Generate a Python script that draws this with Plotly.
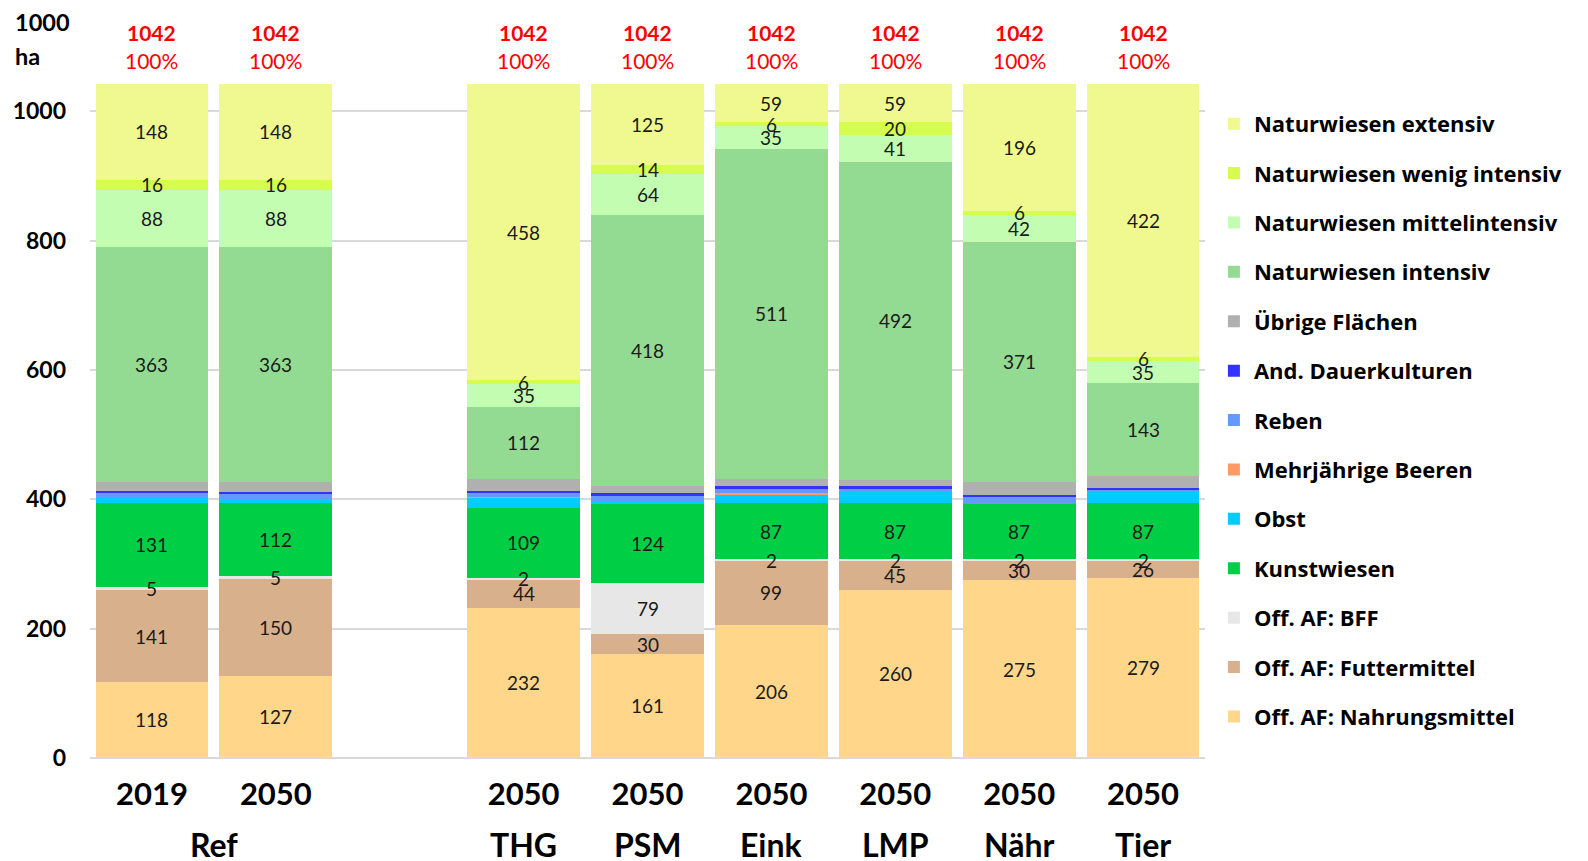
import plotly.graph_objects as go

# categories (one empty slot separates the Ref group)
cat_ids = ["2019 Ref", "2050 Ref", " ", "2050 THG", "2050 PSM", "2050 Eink", "2050 LMP", "2050 Nähr", "2050 Tier"]
years = ["2019", "2050", "", "2050", "2050", "2050", "2050", "2050", "2050"]
scenarios = ["THG", "PSM", "Eink", "LMP", "Nähr", "Tier"]

# area in 1000 ha, bottom -> top of the stack
nahrung = [118, 127, None, 232, 161, 206, 260, 275, 279]
futter = [141, 150, None, 44, 30, 99, 45, 30, 26]
bff = [5, 5, None, 2, 79, 2, 2, 2, 2]
kunst = [131, 112, None, 109, 124, 87, 87, 87, 87]
obst = [7, 7, None, 15, 3, 13, 17, 1, 19]
beeren = [0, 0, None, 1, 0, 2, 0, 0, 0]
reben = [7, 7, None, 6, 8, 8, 6, 9, 1]
and_dk = [4, 4, None, 4, 4, 3, 3, 3, 4]
uebrige = [14, 15, None, 18, 12, 11, 10, 20, 18]
nw_intensiv = [363, 363, None, 112, 418, 511, 492, 371, 143]
nw_mittel = [88, 88, None, 35, 64, 35, 41, 42, 35]
nw_wenig = [16, 16, None, 6, 14, 6, 20, 6, 6]
nw_extensiv = [148, 148, None, 458, 125, 59, 59, 196, 422]

series = [
    ("Off. AF: Nahrungsmittel", nahrung, "#FFD68A", True),
    ("Off. AF: Futtermittel", futter, "#D8B18C", True),
    ("Off. AF: BFF", bff, "#E7E7E7", True),
    ("Kunstwiesen", kunst, "#00CF45", True),
    ("Obst", obst, "#00CCFF", False),
    ("Mehrjährige Beeren", beeren, "#FF9966", False),
    ("Reben", reben, "#6699FF", False),
    ("And. Dauerkulturen", and_dk, "#3333FF", False),
    ("Übrige Flächen", uebrige, "#B0B0B0", False),
    ("Naturwiesen intensiv", nw_intensiv, "#93DB92", True),
    ("Naturwiesen mittelintensiv", nw_mittel, "#C3FDB2", True),
    ("Naturwiesen wenig intensiv", nw_wenig, "#D6FC4E", True),
    ("Naturwiesen extensiv", nw_extensiv, "#F0F98F", True),
]

FONT = "Lato"
fig = go.Figure()
annotations = []
base = [0] * len(cat_ids)

for k, (name, vals, color, labelled) in enumerate(series):
    fig.add_trace(go.Bar(
        x=cat_ids, y=vals, name=name, marker=dict(color=color, line=dict(width=0)),
        legendgroup=name, legendrank=len(series) - k,
    ))
    for i, v in enumerate(vals):
        if v is None:
            continue
        if labelled and v > 0:
            annotations.append(dict(
                x=cat_ids[i], y=base[i] + v / 2, text=str(v), showarrow=False,
                font=dict(family=FONT, size=19, color="#1a1a1a"), yanchor="middle",
            ))
        base[i] += v

# totals above bars
for i, tot in enumerate(base):
    if tot == 0:
        continue
    annotations.append(dict(x=cat_ids[i], y=tot, text=f"<b>{tot}</b>", showarrow=False,
                            yshift=52, yanchor="middle",
                            font=dict(family=FONT, size=21, color="#FF0000")))
    annotations.append(dict(x=cat_ids[i], y=tot, text=f"{round(tot / base[0] * 100)}%", showarrow=False,
                            yshift=24, yanchor="middle",
                            font=dict(family=FONT, size=21, color="#FF0000")))

# scenario row under the years
annotations.append(dict(x=0.5, y=-0.129, xref="x", yref="paper", text="<b>Ref</b>", showarrow=False,
                        yanchor="middle", font=dict(family=FONT, size=32, color="black")))
for s, cid in zip(scenarios, cat_ids[3:]):
    annotations.append(dict(x=cid, y=-0.129, xref="x", yref="paper", text=f"<b>{s}</b>", showarrow=False,
                            yanchor="middle", font=dict(family=FONT, size=32, color="black")))

# unit label
annotations.append(dict(x=-0.069, y=1.092, xref="paper", yref="paper", text="<b>1000</b>", showarrow=False,
                        xanchor="left", yanchor="middle", font=dict(family=FONT, size=23.5, color="black")))
annotations.append(dict(x=-0.069, y=1.0415, xref="paper", yref="paper", text="<b>ha</b>", showarrow=False,
                        xanchor="left", yanchor="middle", font=dict(family=FONT, size=23.5, color="black")))

# page body adds an 8px offset, so the figure is drawn 8px smaller
fig.update_layout(
    barmode="stack",
    bargap=0.09,
    width=1580, height=853,
    margin=dict(l=82, r=383, t=76, b=103),
    plot_bgcolor="white", paper_bgcolor="white",
    font=dict(family=FONT, color="black"),
    annotations=annotations,
    legend=dict(
        traceorder="grouped", tracegroupgap=17.8,
        x=1.008, xanchor="left", y=0.972, yanchor="top",
        font=dict(family="Open Sans", size=22, weight="bold", color="black"),
        itemclick=False,
    ),
    xaxis=dict(
        categoryorder="array", categoryarray=cat_ids,
        tickvals=cat_ids, ticktext=[f"<b>{y}</b>" for y in years],
        tickfont=dict(family=FONT, size=31, color="black"),
        ticklabelstandoff=15, showgrid=False, showline=False, ticks="",
        automargin=False,
    ),
    yaxis=dict(
        range=[0, 1042], tickvals=[0, 200, 400, 600, 800, 1000],
        tickfont=dict(family=FONT, size=23, weight="bold", color="black"),
        showgrid=True, gridcolor="#D9D9D9", gridwidth=1.5,
        zeroline=True, zerolinecolor="#D9D9D9", zerolinewidth=1.5,
        ticklabelstandoff=23, automargin=False,
    ),
)

fig.write_html("out.html")
